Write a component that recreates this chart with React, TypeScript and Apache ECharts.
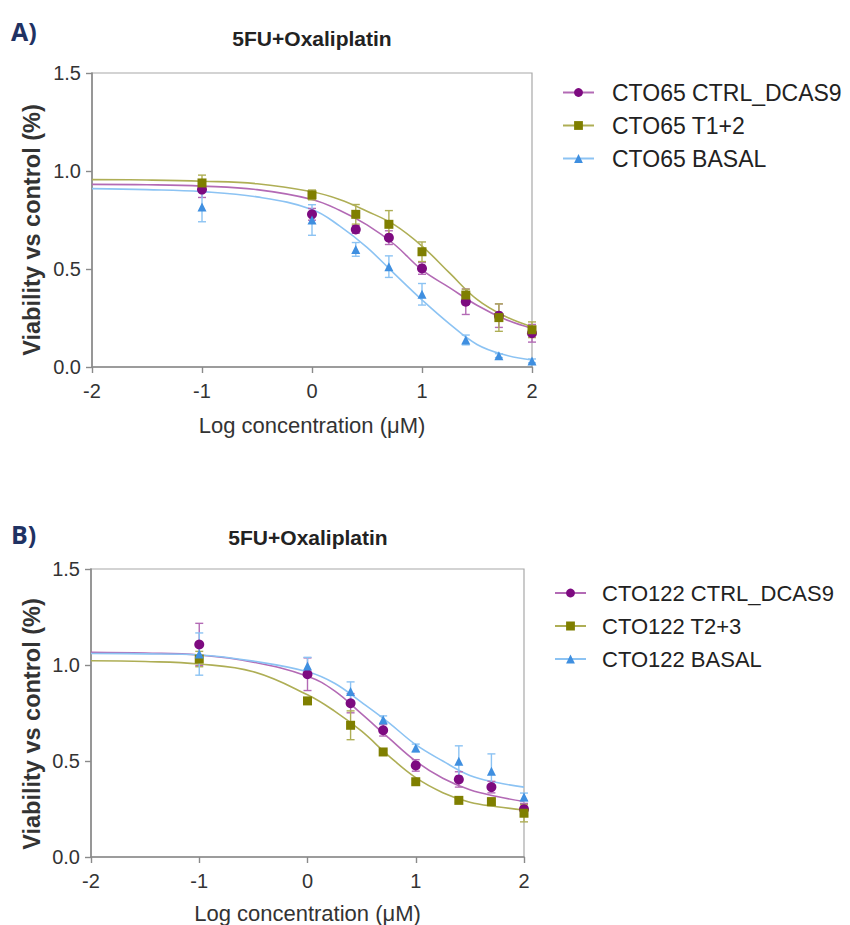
import React, { useEffect, useRef } from "react";
import * as echarts from "echarts";

// ---------- data ----------
const doseLog = [-1, 0, 0.398, 0.699, 1, 1.398, 1.699, 2];
const curveX = [-2, -1.5, -1, -0.5, 0, 0.25, 0.5, 0.75, 1, 1.25, 1.5, 1.75, 2];
const xTicks = [-2, -1, 0, 1, 2];
const yTicks = [0, 0.5, 1.0, 1.5];

const namesA = ["CTO65 CTRL_DCAS9", "CTO65 T1+2", "CTO65 BASAL"];
const namesB = ["CTO122 CTRL_DCAS9", "CTO122 T2+3", "CTO122 BASAL"];

// Panel A – measured means / SEM
const ctrlA = [0.905, 0.779, 0.702, 0.66, 0.503, 0.333, 0.262, 0.172];
const ctrlAErr = [0.04, 0.03, 0.02, 0.035, 0.03, 0.065, 0.06, 0.045];
const t12A = [0.939, 0.878, 0.779, 0.728, 0.588, 0.367, 0.252, 0.19];
const t12AErr = [0.04, 0.025, 0.05, 0.07, 0.05, 0.03, 0.07, 0.04];
const basalA = [0.816, 0.75, 0.6, 0.512, 0.371, 0.138, 0.058, 0.031];
const basalAErr = [0.075, 0.078, 0.035, 0.055, 0.055, 0.025, 0.01, 0.01];

// Panel A – fitted curves
const ctrlACurve = [0.932, 0.93, 0.923, 0.905, 0.855, 0.8, 0.725, 0.625, 0.495, 0.405, 0.315, 0.245, 0.197];
const t12ACurve = [0.956, 0.954, 0.948, 0.935, 0.894, 0.855, 0.795, 0.725, 0.617, 0.48, 0.345, 0.26, 0.205];
const basalACurve = [0.91, 0.905, 0.895, 0.868, 0.804, 0.72, 0.61, 0.475, 0.342, 0.22, 0.115, 0.062, 0.036];

// Panel B – measured means / SEM
const ctrlB = [1.107, 0.952, 0.801, 0.66, 0.477, 0.404, 0.364, 0.249];
const ctrlBErr = [0.11, 0.085, 0.05, 0.03, 0.03, 0.04, 0.03, 0.03];
const t23B = [1.031, 0.813, 0.686, 0.547, 0.392, 0.295, 0.288, 0.228];
const t23BErr = [0.04, 0.01, 0.075, 0.01, 0.01, 0.01, 0.02, 0.045];
const basalB = [1.057, 0.995, 0.862, 0.715, 0.568, 0.499, 0.447, 0.313];
const basalBErr = [0.11, 0.045, 0.05, 0.02, 0.02, 0.08, 0.09, 0.02];

// Panel B – fitted curves
const ctrlBCurve = [1.066, 1.062, 1.052, 1.015, 0.942, 0.865, 0.745, 0.62, 0.499, 0.41, 0.35, 0.315, 0.289];
const t23BCurve = [1.022, 1.018, 1.005, 0.965, 0.845, 0.76, 0.655, 0.527, 0.413, 0.335, 0.285, 0.262, 0.245];
const basalBCurve = [1.06, 1.058, 1.052, 1.02, 0.965, 0.905, 0.805, 0.7, 0.585, 0.5, 0.425, 0.388, 0.364];

const panelTitle = "5FU+Oxaliplatin";
const xName = "Log concentration (\u03bcM)";
const yName = "Viability vs control (%)";

// ---------- styles ----------
const FONT = "'Liberation Sans', Arial, sans-serif";
const groupStyle = [
  { dark: "#7d0a80", light: "#b36ab5", symbol: "circle", size: 10 },
  { dark: "#7f7f00", light: "#aeae55", symbol: "rect", size: 9 },
  { dark: "#3f8fe0", light: "#8cc3f3", symbol: "triangle", size: 9 },
];

function buildSeries(
  names: string[],
  means: number[][],
  errs: number[][],
  curves: number[][],
  axisIndex: number
) {
  const out: any[] = [];
  names.forEach((name, g) => {
    const st = groupStyle[g];
    out.push({
      name,
      type: "line",
      xAxisIndex: axisIndex,
      yAxisIndex: axisIndex,
      data: curveX.map((x, i) => [x, curves[g][i]]),
      smooth: 0.4,
      showSymbol: false,
      symbol: st.symbol,
      symbolSize: st.size,
      itemStyle: { color: st.dark },
      lineStyle: { color: st.light, width: 1.6 },
      z: 2,
      silent: true,
    });
  });
  names.forEach((name, g) => {
    const st = groupStyle[g];
    out.push({
      name: name + " err",
      type: "custom",
      xAxisIndex: axisIndex,
      yAxisIndex: axisIndex,
      data: doseLog.map((x, i) => [x, means[g][i], errs[g][i]]),
      encode: { x: 0, y: 1 },
      z: 3,
      renderItem: (params: any, api: any) => {
        const x = api.value(0);
        const y = api.value(1);
        const e = api.value(2);
        const top = api.coord([x, y + e]);
        const bot = api.coord([x, y - e]);
        const w = 4;
        const s = { stroke: st.light, lineWidth: 1.4 };
        return {
          type: "group",
          children: [
            { type: "line", shape: { x1: top[0], y1: top[1], x2: bot[0], y2: bot[1] }, style: s },
            { type: "line", shape: { x1: top[0] - w, y1: top[1], x2: top[0] + w, y2: top[1] }, style: s },
            { type: "line", shape: { x1: bot[0] - w, y1: bot[1], x2: bot[0] + w, y2: bot[1] }, style: s },
          ],
        };
      },
    });
  });
  names.forEach((name, g) => {
    const st = groupStyle[g];
    out.push({
      name: name + " pts",
      type: "scatter",
      xAxisIndex: axisIndex,
      yAxisIndex: axisIndex,
      data: doseLog.map((x, i) => [x, means[g][i]]),
      symbol: st.symbol,
      symbolSize: st.size,
      itemStyle: { color: st.dark, opacity: 1 },
      z: 4,
    });
  });
  return out;
}

function xAxisDef(gridIndex: number, gap: number) {
  return {
    type: "value",
    gridIndex,
    min: xTicks[0],
    max: xTicks[xTicks.length - 1],
    interval: 1,
    name: xName,
    nameLocation: "middle",
    nameGap: gap,
    nameTextStyle: { fontSize: 22, color: "#333", fontFamily: FONT },
    axisLine: { show: true, onZero: false, lineStyle: { color: "#8a8a8a", width: 1.6 } },
    axisTick: { show: true, length: 6, lineStyle: { color: "#8a8a8a", width: 1.4 } },
    axisLabel: { fontSize: 20, color: "#333", margin: 14, fontFamily: FONT },
    splitLine: { show: false },
  };
}

function yAxisDef(gridIndex: number) {
  return {
    type: "value",
    gridIndex,
    min: yTicks[0],
    max: yTicks[yTicks.length - 1],
    interval: 0.5,
    axisLine: { show: true, onZero: false, lineStyle: { color: "#8a8a8a", width: 1.6 } },
    axisTick: { show: true, length: 6, lineStyle: { color: "#8a8a8a", width: 1.4 } },
    axisLabel: {
      fontSize: 20,
      color: "#333",
      margin: 11,
      fontFamily: FONT,
      formatter: (v: number) => v.toFixed(1),
    },
    splitLine: { show: false },
  };
}

function legendDef(names: string[], left: number, top: number, fontSize: number, pad: number) {
  return {
    data: names,
    orient: "vertical",
    left,
    top,
    padding: 0,
    itemWidth: 31,
    itemHeight: 11,
    itemGap: 33 - fontSize,
    selectedMode: false,
    textStyle: { fontSize, color: "#222", fontFamily: FONT, padding: [0, 0, 0, pad] },
  };
}

export default function App() {
  const ref = useRef<HTMLDivElement>(null);
  useEffect(() => {
    if (!ref.current) return;
    const chart = echarts.init(ref.current, undefined, { renderer: "svg" });
    const series = [
      ...buildSeries(namesA, [ctrlA, t12A, basalA], [ctrlAErr, t12AErr, basalAErr], [ctrlACurve, t12ACurve, basalACurve], 0),
      ...buildSeries(namesB, [ctrlB, t23B, basalB], [ctrlBErr, t23BErr, basalBErr], [ctrlBCurve, t23BCurve, basalBCurve], 1),
    ];
    const labelFont = "'Open Sans', sans-serif";
    chart.setOption({
      animation: false,
      backgroundColor: "#ffffff",
      textStyle: { fontFamily: FONT },
      grid: [
        { left: 92, top: 73, width: 440, height: 294, show: true, borderColor: "#a8a8a8", borderWidth: 1.2 },
        { left: 91, top: 569, width: 433, height: 289, show: true, borderColor: "#a8a8a8", borderWidth: 1.2 },
      ],
      xAxis: [xAxisDef(0, 47), xAxisDef(1, 45)],
      yAxis: [yAxisDef(0), yAxisDef(1)],
      legend: [legendDef(namesA, 562, 81, 23, 13), legendDef(namesB, 554, 582, 22, 11)],
      graphic: [
        { type: "text", x: 11, y: 31, style: { text: "A)", fontSize: 25, fontWeight: "bold", fill: "#1f3263", fontFamily: labelFont, verticalAlign: "middle" } },
        { type: "text", x: 312, y: 38, style: { text: panelTitle, fontSize: 21, fontWeight: "bold", fill: "#222", fontFamily: FONT, align: "center", verticalAlign: "middle" } },
        { type: "text", x: 32, y: 230, rotation: Math.PI / 2, style: { text: yName, fontSize: 23.5, fontWeight: "bold", fill: "#333", fontFamily: FONT, align: "center", verticalAlign: "middle" } },
        { type: "text", x: 11, y: 534, style: { text: "B)", fontSize: 25, fontWeight: "bold", fill: "#1f3263", fontFamily: labelFont, verticalAlign: "middle" } },
        { type: "text", x: 308, y: 537, style: { text: panelTitle, fontSize: 21, fontWeight: "bold", fill: "#222", fontFamily: FONT, align: "center", verticalAlign: "middle" } },
        { type: "text", x: 32, y: 724, rotation: Math.PI / 2, style: { text: yName, fontSize: 23.5, fontWeight: "bold", fill: "#333", fontFamily: FONT, align: "center", verticalAlign: "middle" } },
      ],
      series,
    });
    return () => chart.dispose();
  }, []);
  return (
    <div
      ref={ref}
      style={{ position: "absolute", left: 0, top: 0, width: 850, height: 925, background: "#fff" }}
    />
  );
}
